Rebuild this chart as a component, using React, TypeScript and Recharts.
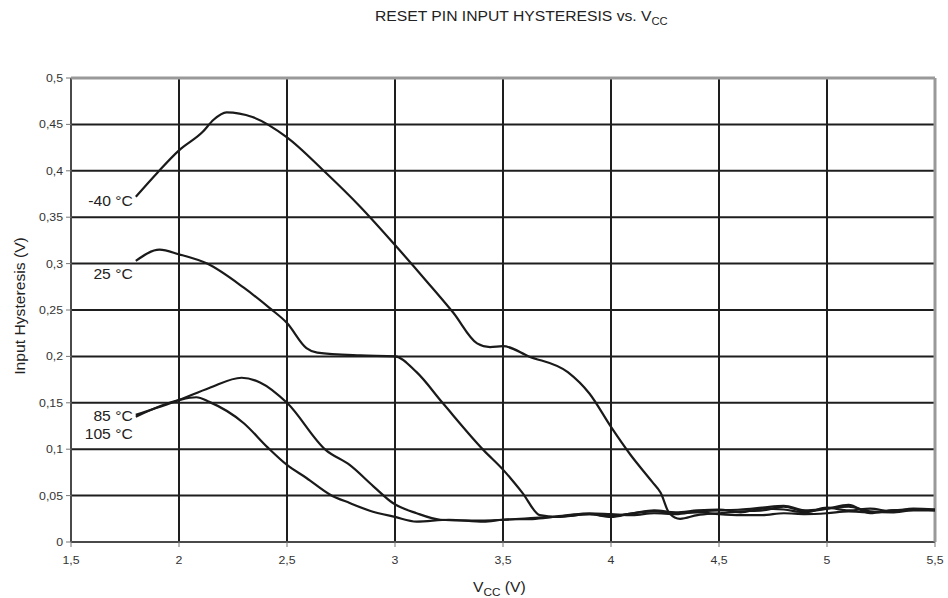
import React from 'react'
import {
  LineChart,
  Line,
  XAxis,
  YAxis,
  CartesianGrid,
  ReferenceLine,
  LabelList,
} from 'recharts'

// Vcc (V) / hysteresis (V) pairs
const vM40 = [1.8, 1.9, 2.0, 2.11, 2.16, 2.22, 2.34, 2.5, 2.67, 2.84, 3.0, 3.15, 3.27, 3.38, 3.44, 3.5, 3.62, 3.8, 3.9, 4.0, 4.09, 4.19, 4.23, 4.27, 4.32, 4.4, 4.5, 4.6, 4.7, 4.8, 4.9, 5.0, 5.1, 5.2, 5.3, 5.4, 5.5]
const iM40 = [0.372, 0.398, 0.422, 0.442, 0.455, 0.463, 0.458, 0.436, 0.4, 0.361, 0.32, 0.28, 0.247, 0.214, 0.21, 0.211, 0.2, 0.183, 0.16, 0.124, 0.094, 0.065, 0.053, 0.031, 0.025, 0.029, 0.031, 0.033, 0.034, 0.038, 0.033, 0.036, 0.04, 0.031, 0.034, 0.035, 0.034]

const v25 = [1.8, 1.91, 2.0, 2.13, 2.3, 2.42, 2.5, 2.59, 2.64, 2.84, 3.0, 3.1, 3.22, 3.41, 3.5, 3.59, 3.67, 3.75, 3.9, 4.0, 4.1, 4.2, 4.3, 4.4, 4.5, 4.6, 4.7, 4.8, 4.9, 5.0, 5.1, 5.2, 5.3, 5.4, 5.5]
const i25 = [0.303, 0.315, 0.31, 0.3, 0.274, 0.252, 0.236, 0.209, 0.204, 0.201, 0.2, 0.183, 0.15, 0.099, 0.078, 0.053, 0.029, 0.027, 0.03, 0.028, 0.031, 0.034, 0.032, 0.034, 0.035, 0.032, 0.036, 0.035, 0.032, 0.037, 0.034, 0.036, 0.033, 0.036, 0.035]

const v85 = [1.8, 2.0, 2.14, 2.29, 2.375, 2.5, 2.68, 2.79, 2.9, 2.99, 3.1, 3.21, 3.35, 3.5, 3.65, 3.8, 3.9, 4.0, 4.1, 4.2, 4.3, 4.4, 4.5, 4.6, 4.7, 4.8, 4.9, 5.0, 5.1, 5.2, 5.3, 5.4, 5.5]
const i85 = [0.137, 0.153, 0.166, 0.177, 0.172, 0.15, 0.099, 0.083, 0.06, 0.042, 0.031, 0.024, 0.023, 0.024, 0.026, 0.028, 0.03, 0.027, 0.031, 0.033, 0.031, 0.032, 0.03, 0.029, 0.029, 0.031, 0.03, 0.031, 0.033, 0.032, 0.034, 0.035, 0.035]

const v105 = [1.8, 2.0, 2.08, 2.14, 2.3, 2.41, 2.5, 2.59, 2.7, 2.79, 2.88, 3.0, 3.1, 3.25, 3.41, 3.5, 3.65, 3.8, 3.9, 4.0, 4.1, 4.2, 4.3, 4.4, 4.5, 4.6, 4.7, 4.8, 4.9, 5.0, 5.1, 5.2, 5.3, 5.4, 5.5]
const i105 = [0.135, 0.153, 0.156, 0.151, 0.128, 0.102, 0.083, 0.069, 0.051, 0.042, 0.034, 0.027, 0.022, 0.024, 0.022, 0.024, 0.025, 0.029, 0.031, 0.03, 0.029, 0.031, 0.03, 0.033, 0.034, 0.035, 0.037, 0.039, 0.034, 0.036, 0.038, 0.033, 0.032, 0.034, 0.034]

const xTicks = [1.5, 2, 2.5, 3, 3.5, 4, 4.5, 5, 5.5]
const yTicks = [0, 0.05, 0.1, 0.15, 0.2, 0.25, 0.3, 0.35, 0.4, 0.45, 0.5]

const zip = (vs: number[], is: number[]) => vs.map((v, k) => ({ v, i: is[k] }))

const series = [
  { name: '-40 °C', data: zip(vM40, iM40), dy: 9 },
  { name: '25 °C', data: zip(v25, i25), dy: 18 },
  { name: '85 °C', data: zip(v85, i85), dy: 6 },
  { name: '105 °C', data: zip(v105, i105), dy: 22 },
]

const font = '"Liberation Sans", Arial, sans-serif'
const STRETCH = 1.12
const comma = (n: number) => String(n).replace('.', ',')

// the scan's lettering is a little wider than Arial, so stretch it
const XTick = (props: any) => (
  <text
    transform={`translate(${props.x},${props.y}) scale(${STRETCH},1)`}
    textAnchor="middle"
    dy="0.71em"
    fontSize={11}
    fill="#333"
    fontFamily={font}
  >
    {comma(props.payload.value)}
  </text>
)

const YTick = (props: any) => (
  <text
    transform={`translate(${props.x},${props.y}) scale(${STRETCH},1)`}
    textAnchor="end"
    dy="0.355em"
    fontSize={11}
    fill="#333"
    fontFamily={font}
  >
    {comma(props.payload.value)}
  </text>
)

const startLabel = (text: string, dy: number) => (props: any) => {
  if (props.index !== 0) return null
  return (
    <text
      transform={`translate(${props.x - 3},${props.y + dy}) scale(${STRETCH},1)`}
      textAnchor="end"
      fontSize={14}
      fill="#222"
      fontFamily={font}
    >
      {text}
    </text>
  )
}

export default function App() {
  return (
    <div style={{ position: 'absolute', left: 0, top: 0, width: 948, height: 598, background: '#fff', fontFamily: font }}>
      <div
        style={{
          position: 'absolute',
          left: 375,
          top: 8,
          fontSize: 14,
          color: '#222',
          whiteSpace: 'nowrap',
          transform: `scaleX(${STRETCH})`,
          transformOrigin: 'left center',
        }}
      >
        RESET PIN INPUT HYSTERESIS vs. V<sub style={{ fontSize: 10, verticalAlign: 'sub', lineHeight: 0 }}>CC</sub>
      </div>
      <LineChart width={948} height={598} data={series[0].data} margin={{ top: 78, right: 13, bottom: 26, left: 31 }}>
        <CartesianGrid stroke="#1e1e1e" strokeWidth={2} />
        <XAxis
          dataKey="v"
          type="number"
          domain={[1.5, 5.5]}
          ticks={xTicks}
          allowDuplicatedCategory={false}
          stroke="#777"
          tickSize={5}
          tick={XTick}
          tickMargin={9}
        />
        <YAxis
          dataKey="i"
          type="number"
          domain={[0, 0.5]}
          ticks={yTicks}
          width={40}
          stroke="#777"
          tickSize={5}
          tick={YTick}
          tickMargin={3}
        />
        <ReferenceLine y={0.5} stroke="#999" strokeWidth={3} />
        <ReferenceLine x={5.5} stroke="#999" strokeWidth={3} />
        {series.map((s) => (
          <Line
            key={s.name}
            data={s.data}
            dataKey="i"
            type="monotone"
            stroke="#1a1a1a"
            strokeWidth={2.2}
            dot={false}
            activeDot={false}
            isAnimationActive={false}
          >
            <LabelList dataKey="i" content={startLabel(s.name, s.dy)} />
          </Line>
        ))}
      </LineChart>
      <div
        style={{
          position: 'absolute',
          left: 20,
          top: 306,
          transform: `translate(-50%, -50%) rotate(-90deg) scaleX(${STRETCH})`,
          fontSize: 14,
          color: '#222',
          whiteSpace: 'nowrap',
        }}
      >
        Input Hysteresis (V)
      </div>
      <div
        style={{
          position: 'absolute',
          left: 473,
          top: 579,
          fontSize: 14,
          color: '#222',
          whiteSpace: 'nowrap',
          transform: `scaleX(${STRETCH})`,
          transformOrigin: 'left center',
        }}
      >
        V<sub style={{ fontSize: 10.5, verticalAlign: 'sub', lineHeight: 0 }}>CC</sub> (V)
      </div>
    </div>
  )
}
